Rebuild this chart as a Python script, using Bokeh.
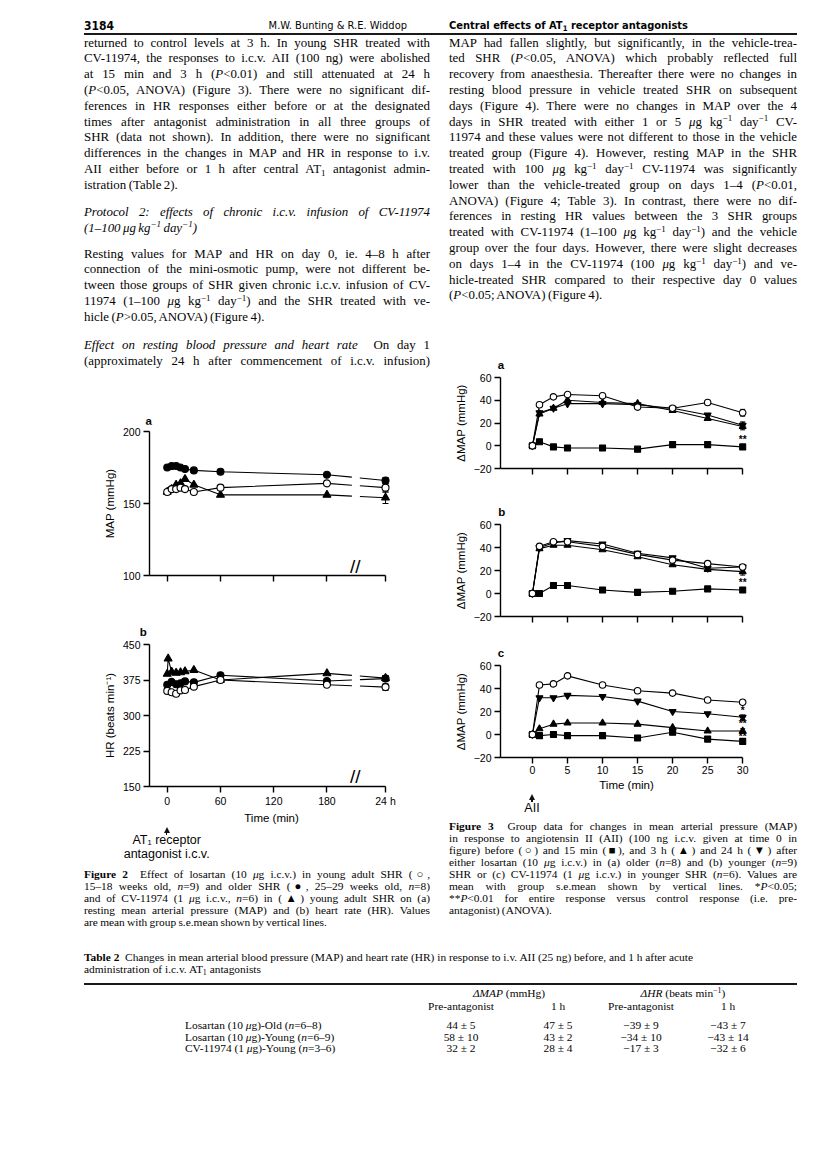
from bokeh.plotting import figure
from bokeh.layouts import column, row
from bokeh.models import (Div, Label, Whisker, ColumnDataSource, FixedTicker,
                          Range1d, TeeHead, CustomJSTickFormatter)
from bokeh.embed import file_html
from bokeh.resources import INLINE

# ---------------------------------------------------------------- data
# Figure 2 (time in min; last point is the 24 h reading placed after the axis break)
fig2_times = [0, 5, 10, 15, 20, 30, 60, 180]
fig2_t24_pos = 246
fig2_cv_hr_times = [0, 1, 5, 10, 15, 20, 30, 60, 180]
fig2_xticks = [0, 60, 120, 180, 246]
fig2_xlabels = {246: "24 h"}

map_older = [175, 176, 176, 175, 174, 173, 172, 170, 166]
map_young = [158, 160, 160, 161, 160, 158, 161, 164, 161]
map_cv = [158, 160, 163, 164, 167, 163, 156, 156, 154]
map_err_older, map_err_young, map_err_cv = 2, 3, 4

hr_older = [365, 371, 366, 368, 372, 370, 385, 373, 378]
hr_young = [352, 349, 346, 353, 354, 361, 375, 365, 360]
hr_cv = [388, 420, 392, 390, 391, 393, 396, 375, 389, 379]
hr_err_older, hr_err_young, hr_err_cv = 6, 7, 5

# Figure 3 (change in MAP, mmHg)
fig3_times = [0, 1, 3, 5, 10, 15, 20, 25, 30]
a_before = [0, 36, 43, 45, 44, 34, 33, 38, 29]
a_15min = [0, 3.5, -1, -2, -2, -3, 1, 1, -1]
a_3h = [0, 28, 33, 40, 38, 37, 31, 24, 17]
a_24h = [0, 29, 33, 37, 37, 36, 33, 27, 18]
b_before = [0, 41, 45, 45, 41, 34, 29, 26, 23]
b_15min = [0, 0, 7, 7, 3, 1, 2, 4, 3]
b_3h = [0, 39, 42, 42, 38, 32, 25, 21, 19]
b_24h = [0, 40, 44, 46, 43, 35, 31, 22, 23]
c_before = [0, 43, 44, 51, 43, 38, 36, 30, 28]
c_15min = [0, -1, 0, -1, -1, -3, 2, -4, -6]
c_3h = [0, 5, 9, 10, 10, 9, 6, 3, 3]
c_24h = [0, 32, 32, 34, 33, 29, 20, 18, 15]
a_err = [3, 2, 3, 3]
b_err = [2, 2, 3, 2]
c_err = [2, 2, 2, 2]
a_stars = [("**", 5.5)]
b_stars = [("**", 9.5)]
c_stars = [("*", 20.5), ("**", 9.5), ("**", -1.5)]
fig3_xticks = [0, 5, 10, 15, 20, 25, 30]
fig3_yticks = [-20, 0, 20, 40, 60]

# Table 2
table_rows = ["Losartan (10 <i>μ</i>g)-Old (<i>n</i>=6–8)",
              "Losartan (10 <i>μ</i>g)-Young (<i>n</i>=6–9)",
              "CV-11974 (1 <i>μ</i>g)-Young (<i>n</i>=3–6)"]
map_pre = ["44 ± 5", "58 ± 10", "32 ± 2"]
map_1h = ["47 ± 5", "43 ± 2", "28 ± 4"]
hr_pre = ["−39 ± 9", "−34 ± 10", "−17 ± 3"]
hr_1h = ["−43 ± 7", "−43 ± 14", "−32 ± 6"]

# ---------------------------------------------------------------- text helpers
SERIF = "'Liberation Serif','Times New Roman',serif"
SANS = "'Liberation Sans',Arial,sans-serif"
COND = "'DejaVu Sans Condensed','Liberation Sans Narrow','Liberation Sans',sans-serif"


def sup(s):
    return f'<span style="font-size:0.7em;position:relative;top:-0.45em;line-height:0">{s}</span>'


def sub(s):
    return f'<span style="font-size:0.7em;position:relative;top:0.3em;line-height:0">{s}</span>'


KG = f'kg{sup("−1")} day{sup("−1")}'
MU = '<i>μ</i>'


def tl(html, left, yc, width, fs, lh, align="justify", family=SERIF, weight="normal", ws=0.0):
    top = yc - lh / 2.0
    return (f'<div style="position:absolute;left:{left:.1f}px;top:{top:.1f}px;width:{width:.1f}px;'
            f'height:{lh}px;line-height:{lh}px;font-size:{fs}px;font-family:{family};font-weight:{weight};'
            f'word-spacing:{ws}px;color:#050505;white-space:nowrap;text-align:{align};'
            f'text-align-last:{align};">{html}</div>')


def rule(left, yc, width, thick):
    return (f'<div style="position:absolute;left:{left:.1f}px;top:{yc - thick / 2:.1f}px;width:{width:.1f}px;'
            f'height:{thick}px;background:#1a1a1a"></div>')


def arrow(x, y_tip, y_end):
    return (f'<div style="position:absolute;left:{x - 0.6:.1f}px;top:{y_tip + 3:.1f}px;width:1.2px;'
            f'height:{y_end - y_tip - 3:.1f}px;background:#111"></div>'
            f'<div style="position:absolute;left:{x - 3:.1f}px;top:{y_tip:.1f}px;width:0;height:0;'
            f'border-left:3px solid transparent;border-right:3px solid transparent;'
            f'border-bottom:6px solid #111"></div>')


def make_div(items, width, height):
    html = (f'<div style="position:relative;width:{width}px;height:{height}px;overflow:visible">'
            + "".join(items) + '</div>')
    return Div(text=html, width=width, height=height, margin=0, styles={"overflow": "visible"})


# ---------------------------------------------------------------- page layout (window px, origin 0,0)
LX, LW = 0, 440
RX, RW = 440, 368
BODY_FS, BODY_LH, BODY_WS = 12.9, 15, -0.8
CAP_FS, CAP_LH, CAP_WS = 11.4, 12, -0.6

left_lines = [
    ("returned to control levels at 3 h. In young SHR treated with", "justify"),
    ("CV-11974, the responses to i.c.v. AII (100 ng) were abolished", "justify"),
    ("at 15 min and 3 h (<i>P</i>&lt;0.01) and still attenuated at 24 h", "justify"),
    ("(<i>P</i>&lt;0.05, ANOVA) (Figure 3). There were no significant dif-", "justify"),
    ("ferences in HR responses either before or at the designated", "justify"),
    ("times after antagonist administration in all three groups of", "justify"),
    ("SHR (data not shown). In addition, there were no significant", "justify"),
    ("differences in the changes in MAP and HR in response to i.v.", "justify"),
    (f"AII either before or 1 h after central AT{sub('1')} antagonist admin-", "justify"),
    ("istration (Table 2).", "left"),
    ("<i>Protocol 2: effects of chronic i.c.v. infusion of CV-11974</i>", "justify"),
    (f"<i>(1–100 μg {KG})</i>", "left"),
    ("Resting values for MAP and HR on day 0, ie. 4–8 h after", "justify"),
    ("connection of the mini-osmotic pump, were not different be-", "justify"),
    ("tween those groups of SHR given chronic i.c.v. infusion of CV-", "justify"),
    (f"11974 (1–100 {MU}g {KG}) and the SHR treated with ve-", "justify"),
    ("hicle (<i>P</i>&gt;0.05, ANOVA) (Figure 4).", "left"),
    ("<i>Effect on resting blood pressure and heart rate</i>&nbsp; On day 1", "justify"),
    ("(approximately 24 h after commencement of i.c.v. infusion)", "justify"),
]
left_ys = ([43 + 15.8 * i for i in range(10)] + [212, 228]
           + [254 + 15.8 * i for i in range(5)] + [345, 361])

right_lines = [
    ("MAP had fallen slightly, but significantly, in the vehicle-trea-", "justify"),
    ("ted SHR (<i>P</i>&lt;0.05, ANOVA) which probably reflected full", "justify"),
    ("recovery from anaesthesia. Thereafter there were no changes in", "justify"),
    ("resting blood pressure in vehicle treated SHR on subsequent", "justify"),
    ("days (Figure 4). There were no changes in MAP over the 4", "justify"),
    (f"days in SHR treated with either 1 or 5 {MU}g {KG} CV-", "justify"),
    ("11974 and these values were not different to those in the vehicle", "justify"),
    ("treated group (Figure 4). However, resting MAP in the SHR", "justify"),
    (f"treated with 100 {MU}g {KG} CV-11974 was significantly", "justify"),
    ("lower than the vehicle-treated group on days 1–4 (<i>P</i>&lt;0.01,", "justify"),
    ("ANOVA) (Figure 4; Table 3). In contrast, there were no dif-", "justify"),
    ("ferences in resting HR values between the 3 SHR groups", "justify"),
    (f"treated with CV-11974 (1–100 {MU}g {KG}) and the vehicle", "justify"),
    ("group over the four days. However, there were slight decreases", "justify"),
    (f"on days 1–4 in the CV-11974 (100 {MU}g {KG}) and ve-", "justify"),
    ("hicle-treated SHR compared to their respective day 0 values", "justify"),
    ("(<i>P</i>&lt;0.05; ANOVA) (Figure 4).", "left"),
]
right_ys = [43 + 15.8 * i for i in range(17)]

cap2_lines = [
    (f"<b>Figure 2</b>&nbsp; Effect of losartan (10 {MU}g i.c.v.) in young adult SHR (○,", "justify"),
    ("15–18 weeks old, <i>n</i>=9) and older SHR (●, 25–29 weeks old, <i>n</i>=8)", "justify"),
    (f"and of CV-11974 (1 {MU}g i.c.v., <i>n</i>=6) in (▲) young adult SHR on (a)", "justify"),
    ("resting mean arterial pressure (MAP) and (b) heart rate (HR). Values", "justify"),
    ("are mean with group s.e.mean shown by vertical lines.", "left"),
]
cap2_ys = [874 + 12 * i for i in range(5)]

cap3_lines = [
    ("<b>Figure 3</b>&nbsp; Group data for changes in mean arterial pressure (MAP)", "justify"),
    ("in response to angiotensin II (AII) (100 ng i.c.v. given at time 0 in", "justify"),
    ("figure) before (○) and 15 min (■), and 3 h (▲) and 24 h (▼) after", "justify"),
    (f"either losartan (10 {MU}g i.c.v.) in (a) older (<i>n</i>=8) and (b) younger (<i>n</i>=9)", "justify"),
    (f"SHR or (c) CV-11974 (1 {MU}g i.c.v.) in younger SHR (<i>n</i>=6). Values are", "justify"),
    ("mean with group s.e.mean shown by vertical lines. *<i>P</i>&lt;0.05;", "justify"),
    ("**<i>P</i>&lt;0.01 for entire response versus control response (i.e. pre-", "justify"),
    ("antagonist) (ANOVA).", "left"),
]
cap3_ys = [826 + 12 * i for i in range(8)]

# vertical stacking (top, height) in window px
LT = (0, 424)       # header + left text + letter a
F2A = (424, 171)    # frame 431-575
SB = (595, 41)      # letter b strip
F2B = (636, 190)    # frame 644-788
C2 = (826, 114)
RT = (0, 369)       # header + right text + letter a
F3A = (369, 131)    # frame 377-468
S3B = (500, 16)
F3B = (516, 129)    # frame 524-616
S3C = (645, 12)
F3C = (657, 136)    # frame 665-757
C3 = (793, 147)
TB = (940, 115)


def panel_letter(ch, x, y, top, left):
    return tl(f"<b>{ch}</b>", x - 10 - left, y - top, 20, 11.5, 12, "center", SANS)


# left text column
items = [tl("3184", 84 - LX, 26, 60, 12, 14, "left", COND, "bold"),
         tl("M.W. Bunting &amp; R.E. Widdop", 250 - LX, 26, 157, 11, 14, "right", COND),
         rule(84 - LX, 33.5, LW - 84, 2)]
for (h, a), y in zip(left_lines, left_ys):
    items.append(tl(h, 84 - LX, y, 346, BODY_FS, BODY_LH, a, ws=BODY_WS))
items.append(panel_letter("a", 148.7, 420.5, 0, LX))
left_text = make_div(items, LW, LT[1])

strip_b = make_div([panel_letter("b", 143.3, 632, SB[0], LX)], LW, SB[1])

items = [arrow(166.7 - LX, 826.5 - C2[0], 835 - C2[0]),
         tl("AT₁ receptor", 166.7 - 60 - LX, 840.5 - C2[0], 120, 12.5, 11, "center", SANS),
         tl("antagonist i.c.v.", 166.7 - 60 - LX, 854 - C2[0], 120, 12.5, 11, "center", SANS)]
items += [tl(h, 84 - LX, y - C2[0], 346, CAP_FS, CAP_LH, a, ws=CAP_WS) for (h, a), y in zip(cap2_lines, cap2_ys)]
cap2 = make_div(items, LW, C2[1])

# right text column
items = [tl(f"Central effects of AT{sub('1')} receptor antagonists", 449 - RX, 26, 300, 11, 14,
            "left", COND, "bold"),
         rule(0, 33.5, 797 - RX, 2)]
for (h, a), y in zip(right_lines, right_ys):
    items.append(tl(h, 449 - RX, y, 348, BODY_FS, BODY_LH, a, ws=BODY_WS))
items.append(panel_letter("a", 501, 365, 0, RX))
right_text = make_div(items, RW, RT[1])

strip_3b = make_div([panel_letter("b", 501.7, 511.5, S3B[0], RX)], RW, S3B[1])
strip_3c = make_div([panel_letter("c", 501, 652.5, S3C[0], RX)], RW, S3C[1])

items = [arrow(532 - RX, 794 - C3[0], 802 - C3[0]),
         tl("AII", 532 - 20 - RX, 808 - C3[0], 40, 12.5, 12, "center", SANS)]
items += [tl(h, 449 - RX, y - C3[0], 348, CAP_FS, CAP_LH, a, ws=CAP_WS) for (h, a), y in zip(cap3_lines, cap3_ys)]
cap3 = make_div(items, RW, C3[1])

# table
TFS, TLH = 11.4, 12
T0 = TB[0]
items = [tl("<b>Table 2</b>&nbsp; Changes in mean arterial blood pressure (MAP) and heart rate (HR) in "
            "response to i.v. AII (25 ng) before, and 1 h after acute", 84, 957 - T0, 713, TFS, TLH, "left"),
         tl(f"administration of i.c.v. AT{sub('1')} antagonists", 84, 969 - T0, 713, TFS, TLH, "left"),
         rule(84, 984 - T0, 713, 1.6),
         tl("<i>ΔMAP</i> (mmHg)", 509 - 80, 993 - T0, 160, TFS, TLH, "center"),
         tl(f"<i>ΔHR</i> (beats min{sup('−1')})", 683 - 80, 993 - T0, 160, TFS, TLH, "center")]
col_x = [461, 558, 641, 728]
for cx, t in zip(col_x, ["Pre-antagonist", "1 h", "Pre-antagonist", "1 h"]):
    items.append(tl(t, cx - 50, 1006 - T0, 100, TFS, TLH, "center"))
row_ys = [1025, 1036.5, 1048]
for i, y in enumerate(row_ys):
    items.append(tl(table_rows[i], 185, y - T0, 220, TFS, TLH, "left"))
    for cx, vals in zip(col_x, [map_pre, map_1h, hr_pre, hr_1h]):
        items.append(tl(vals[i], cx - 40, y - T0, 80, TFS, TLH, "center"))
table = make_div(items, 808, TB[1])


# ---------------------------------------------------------------- figures
def make_fig(width, height, xr, yr, mb):
    p = figure(width=width, height=height, x_range=Range1d(*xr), y_range=Range1d(*yr),
               output_backend="svg", toolbar_location=None, title=None, margin=0,
               min_border_left=mb[0], min_border_right=mb[1], min_border_top=mb[2], min_border_bottom=mb[3])
    p.outline_line_color = None
    p.grid.visible = False
    p.background_fill_color = "white"
    p.border_fill_color = "white"
    return p


def cfg_axes(p, xticks, yticks, xbounds, ybounds, show_xlabels, xlabel=None, ylabel=None, xover=None):
    xa, ya = p.xaxis[0], p.yaxis[0]
    xa.ticker = FixedTicker(ticks=xticks)
    ya.ticker = FixedTicker(ticks=yticks)
    xa.bounds = xbounds
    ya.bounds = ybounds
    for ax in (xa, ya):
        ax.axis_line_width = 1.4
        ax.axis_line_color = "black"
        ax.major_tick_line_width = 1.4
        ax.major_tick_line_color = "black"
        ax.major_tick_out = 6
        ax.major_tick_in = 0
        ax.minor_tick_line_color = None
        ax.major_label_text_font = "Liberation Sans"
        ax.major_label_text_font_size = "10.5px"
        ax.major_label_text_color = "black"
        ax.major_label_standoff = 2
        ax.axis_label_text_font = "Liberation Sans"
        ax.axis_label_text_font_size = "11.5px"
        ax.axis_label_text_font_style = "normal"
        ax.axis_label_text_color = "black"
        ax.axis_label_standoff = 2
    ya.major_label_standoff = 3
    ya.axis_label_standoff = 4
    if ylabel:
        ya.axis_label = ylabel
    if xlabel:
        xa.axis_label = xlabel
    if xover:
        xa.major_label_overrides = xover
    if not show_xlabels:
        xa.formatter = CustomJSTickFormatter(code="return ''")


def draw_series(p, x, y, marker, filled, size, break_last=False):
    if break_last:
        p.line(x[:-1], y[:-1], line_color="black", line_width=1.1)
        p.line(x[-2:], y[-2:], line_color="black", line_width=1.1, line_dash="25 8 60")
    else:
        p.line(x, y, line_color="black", line_width=1.1)
    p.scatter(x, y, marker=marker, size=size, fill_color="black" if filled else "white",
              line_color="black", line_width=1.1)


def whisker(p, x, y, e, head=6):
    src = ColumnDataSource(dict(x=[x], lo=[y - e], hi=[y + e]))
    p.add_layout(Whisker(source=src, base="x", lower="lo", upper="hi", dimension="height",
                         line_color="black", line_width=1,
                         lower_head=TeeHead(size=head, line_width=1, line_color="black"),
                         upper_head=TeeHead(size=head, line_width=1, line_color="black")))


def label(p, x, y, text, size="11px", bold=False, baseline="middle"):
    p.add_layout(Label(x=x, y=y, text=text, text_font="Liberation Sans", text_font_size=size,
                       text_font_style="bold" if bold else "normal", text_align="center",
                       text_baseline=baseline, text_color="black"))


# --- Figure 2
F2_XR = (-20, 255)
x2 = fig2_times + [fig2_t24_pos]
x2cv = fig2_cv_hr_times + [fig2_t24_pos]

p2a = make_fig(LW, F2A[1], F2_XR, (100, 200), (149, 47, 7, 20))
cfg_axes(p2a, fig2_xticks, [100, 150, 200], (F2_XR[0], fig2_t24_pos), (100, 200), False,
         ylabel="MAP (mmHg)")
draw_series(p2a, x2, map_cv, "triangle", True, 8, True)
draw_series(p2a, x2, map_older, "circle", True, 7, True)
draw_series(p2a, x2, map_young, "circle", False, 7, True)
whisker(p2a, fig2_t24_pos, map_older[-1], map_err_older)
whisker(p2a, fig2_t24_pos, map_young[-1], map_err_young)
whisker(p2a, fig2_t24_pos, map_cv[-1], map_err_cv)
label(p2a, 212, 99, "//", "19px", baseline="bottom")

p2b = make_fig(LW, F2B[1], F2_XR, (150, 450), (149, 47, 8, 38))
cfg_axes(p2b, fig2_xticks, [150, 225, 300, 375, 450], (F2_XR[0], fig2_t24_pos), (150, 450), True,
         xlabel="Time (min)", ylabel="HR (beats min⁻¹)", xover=fig2_xlabels)
draw_series(p2b, x2cv, hr_cv, "triangle", True, 8, True)
draw_series(p2b, x2, hr_older, "circle", True, 7, True)
draw_series(p2b, x2, hr_young, "circle", False, 7, True)
whisker(p2b, fig2_t24_pos, hr_older[-1], hr_err_older)
whisker(p2b, fig2_t24_pos, hr_young[-1], hr_err_young)
whisker(p2b, fig2_t24_pos, hr_cv[-1], hr_err_cv)
label(p2b, 212, 148, "//", "19px", baseline="bottom")

# --- Figure 3
F3_XR = (-4.56, 31.4)


def fig3_panel(spec, mb, before, m15, h3, h24, errs, stars, bottom):
    p = make_fig(RW, spec[1], F3_XR, (-20, 60), mb)
    cfg_axes(p, fig3_xticks, fig3_yticks, (F3_XR[0], 30), (-20, 60), bottom,
             xlabel="Time (min)" if bottom else None, ylabel="ΔMAP (mmHg)")
    draw_series(p, fig3_times, m15, "square", True, 6)
    draw_series(p, fig3_times, h3, "triangle", True, 7)
    draw_series(p, fig3_times, h24, "inverted_triangle", True, 7)
    draw_series(p, fig3_times, before, "circle", False, 6.5)
    for ser, e in zip([before, m15, h3, h24], errs):
        whisker(p, 30, ser[-1], e, 5)
    for s, v in stars:
        label(p, 30, v, s, "10px", True)
    return p


p3a = fig3_panel(F3A, (60, 56, 8, 32), a_before, a_15min, a_3h, a_24h, a_err, a_stars, False)
p3b = fig3_panel(F3B, (60, 56, 8, 29), b_before, b_15min, b_3h, b_24h, b_err, b_stars, False)
p3c = fig3_panel(F3C, (60, 56, 8, 36), c_before, c_15min, c_3h, c_24h, c_err, c_stars, True)

# ---------------------------------------------------------------- assemble
left_col = column(left_text, p2a, strip_b, p2b, cap2, spacing=0)
right_col = column(right_text, p3a, strip_3b, p3b, strip_3c, p3c, cap3, spacing=0)
page = column(row(left_col, right_col, spacing=0), table, spacing=0)

open("out.html", "w").write(file_html(page, INLINE))
